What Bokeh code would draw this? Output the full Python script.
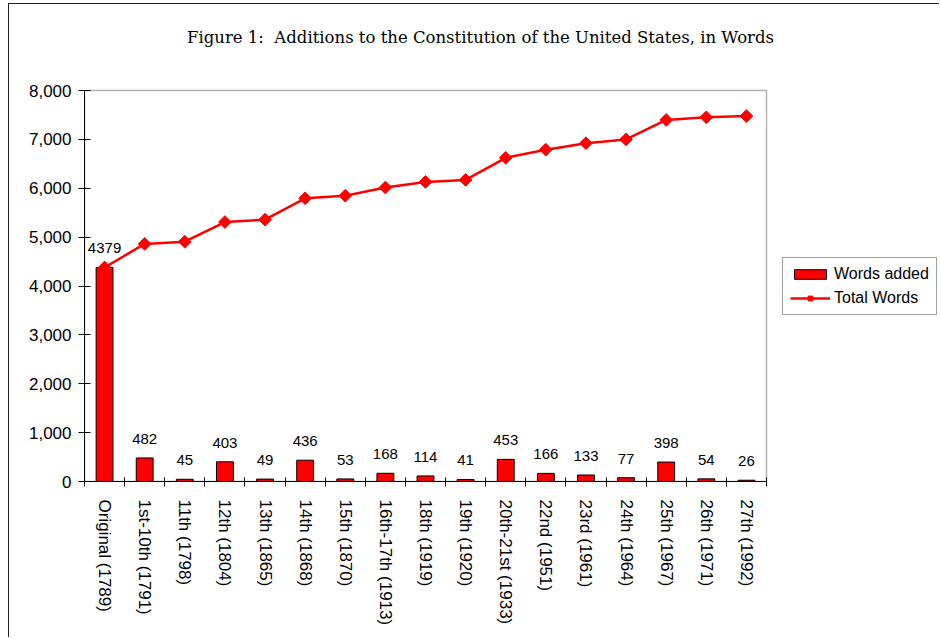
import math

from bokeh.core.properties import value
from bokeh.embed import file_html
from bokeh.models import (BoxAnnotation, ColumnDataSource, FixedTicker, Label, LabelSet,
                          Legend, LegendItem, NumeralTickFormatter, Range1d)
from bokeh.plotting import figure
from bokeh.resources import INLINE

# Amendments (grouped where ratified together) and their word counts
amendments = [
    "Original (1789)", "1st-10th (1791)", "11th (1798)", "12th (1804)",
    "13th (1865)", "14th (1868)", "15th (1870)", "16th-17th (1913)",
    "18th (1919)", "19th (1920)", "20th-21st (1933)", "22nd (1951)",
    "23rd (1961)", "24th (1964)", "25th (1967)", "26th (1971)", "27th (1992)",
]
words_added = [4379, 482, 45, 403, 49, 436, 53, 168, 114, 41, 453, 166, 133, 77, 398, 54, 26]
total_words = [4379, 4861, 4906, 5309, 5358, 5794, 5847, 6015, 6129, 6170, 6623, 6789,
               6922, 6999, 7397, 7451, 7477]
y_ticks = [0, 1000, 2000, 3000, 4000, 5000, 6000, 7000, 8000]

# non-breaking space keeps the double gap after the colon
title_text = "Figure 1:\u00a0 Additions to the Constitution of the United States, in Words"

SANS = "Liberation Sans"
RED = "#FF0000"

# page geometry (px): the drawing area spans the whole canvas right of the
# y axis and above the category labels; the chart box sits inside it
FIG_W, FIG_H = 931, 634
BORDER_L, BORDER_B = 75, 157
FRAME_W = FIG_W - BORDER_L
FRAME_H = FIG_H - BORDER_B
BOX_W, BOX_H = 682, 391          # chart box size inside the drawing area
TITLE_CX, TITLE_BASE = 396, 444  # title centre / baseline, from the box's bottom-left
LEGEND_AT = (698, 166)

n = len(amendments)
y_top = y_ticks[-1]
x_end = n * FRAME_W / BOX_W
y_end = y_top * FRAME_H / BOX_H
centers = [i + 0.5 for i in range(n)]
bounds = list(range(n + 1))

src = ColumnDataSource(dict(
    x=centers,
    name=amendments,
    added=words_added,
    added_txt=[str(v) for v in words_added],
    total=total_words,
))

p = figure(
    width=FIG_W, height=FIG_H, title=None,
    x_range=Range1d(0, x_end), y_range=Range1d(0, y_end),
    output_backend="svg", toolbar_location=None,
    min_border_left=BORDER_L, min_border_right=0, min_border_top=0,
    min_border_bottom=BORDER_B,
    background_fill_color="white", border_fill_color="white",
    outline_line_color=None,
    styles={"margin-left": "8px", "margin-top": "3px",
            "border-left": "1.5px solid #222", "border-top": "1.5px solid #222"},
)
p.grid.visible = False

# chart box
p.add_layout(BoxAnnotation(left=0, right=n, bottom=0, top=y_top,
                           fill_color=None, line_color="black", line_width=1.5))

bars = p.vbar(x="x", top="added", width=0.42, source=src,
              fill_color=RED, line_color="black", line_width=1)
line = p.line(x="x", y="total", source=src, line_color=RED, line_width=2.5)
pts = p.scatter(x="x", y="total", source=src, marker="square", angle=math.pi / 4,
                size=9, fill_color=RED, line_color=RED)

# value labels over the bars
p.add_layout(LabelSet(x="x", y="added", text="added_txt", source=src,
                      y_offset=14, text_align="center", text_baseline="alphabetic",
                      text_font=value(SANS), text_font_size="15px", text_color="black"))

# title
p.add_layout(Label(x=TITLE_CX * n / BOX_W, y=TITLE_BASE * y_top / BOX_H, text=title_text,
                   text_align="center", text_baseline="alphabetic",
                   text_font="DejaVu Serif", text_font_size="16.5px", text_color="black"))

# x axis: names at bar centres, tick marks on the category boundaries
xa = p.xaxis[0]
xa.bounds = (0, n)
xa.ticker = FixedTicker(ticks=centers, minor_ticks=bounds)
xa.major_label_overrides = {c: nm for c, nm in zip(centers, amendments)}
xa.major_label_orientation = -math.pi / 2
xa.major_tick_in = 0
xa.major_tick_out = 0
xa.minor_tick_in = 4
xa.minor_tick_out = 5
xa.minor_tick_line_color = "black"
xa.major_label_standoff = 13
xa.major_label_text_font = SANS
xa.major_label_text_font_size = "17px"
xa.major_label_text_color = "black"
xa.axis_line_color = "black"

ya = p.yaxis[0]
ya.bounds = (0, y_top)
ya.ticker = FixedTicker(ticks=y_ticks)
ya.formatter = NumeralTickFormatter(format="0,0")
ya.major_tick_in = 6
ya.major_tick_out = 6
ya.minor_tick_line_color = None
ya.major_label_standoff = 7
ya.major_label_text_font = SANS
ya.major_label_text_font_size = "17px"
ya.major_label_text_color = "black"
ya.axis_line_color = "black"
ya.major_tick_line_color = "black"

legend = Legend(
    items=[LegendItem(label="Words added", renderers=[bars]),
           LegendItem(label="Total Words", renderers=[line, pts])],
    location=LEGEND_AT, orientation="vertical",
    label_text_font=SANS, label_text_font_size="16px", label_text_color="black",
    glyph_width=40, glyph_height=12, label_standoff=4, spacing=6, padding=7, margin=0,
    border_line_color="#444", border_line_width=1, background_fill_color="white",
)
p.add_layout(legend, "center")

open("out.html", "w").write(file_html(p, INLINE))
